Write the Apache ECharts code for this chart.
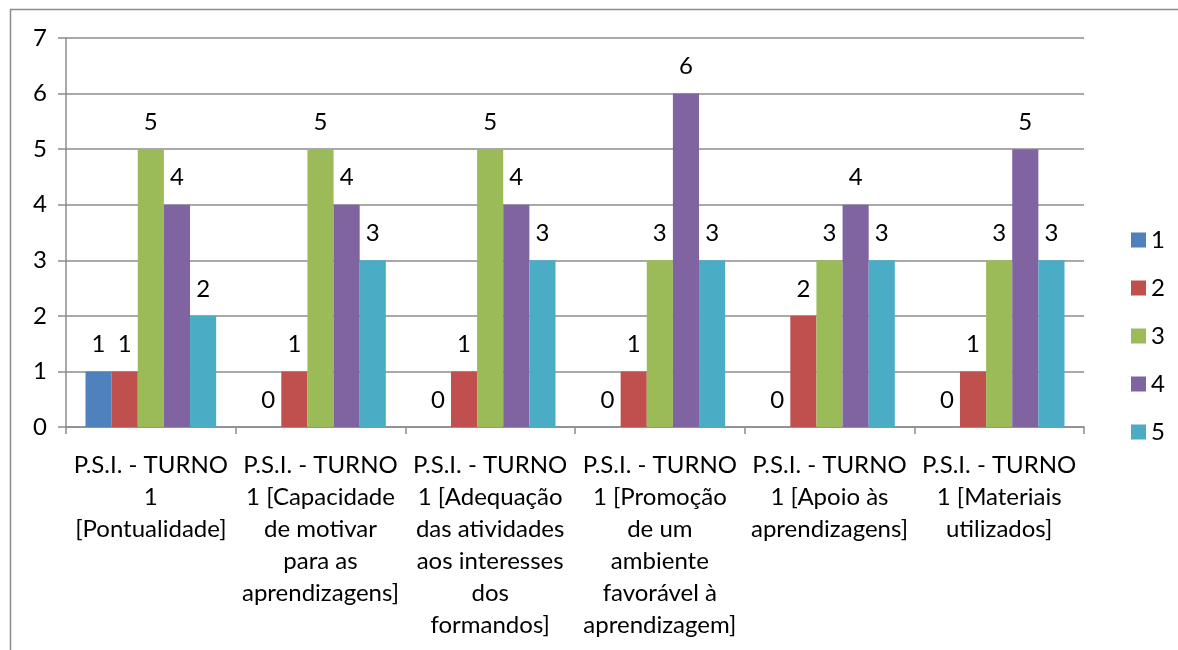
<!DOCTYPE html>
<html>
<head>
<meta charset="utf-8">
<script src="https://cdn.jsdelivr.net/npm/echarts@6/dist/echarts.min.js"></script>
<style>
  html, body { margin: 0; padding: 0; background: #fff; }
  #chart { width: 1178px; height: 650px; }
</style>
</head>
<body>
<div id="chart"></div>
<script>
var categories = [
  'P.S.I. - TURNO\n1\n[Pontualidade]',
  'P.S.I. - TURNO\n1 [Capacidade\nde motivar\npara as\naprendizagens]',
  'P.S.I. - TURNO\n1 [Adequação\ndas atividades\naos interesses\ndos\nformandos]',
  'P.S.I. - TURNO\n1 [Promoção\nde um\nambiente\nfavorável à\naprendizagem]',
  'P.S.I. - TURNO\n1 [Apoio às\naprendizagens]',
  'P.S.I. - TURNO\n1 [Materiais\nutilizados]'
]
var seriesNames = ['1', '2', '3', '4', '5']
var values1 = [1, 0, 0, 0, 0, 0]
var values2 = [1, 1, 1, 1, 2, 1]
var values3 = [5, 5, 5, 3, 3, 3]
var values4 = [4, 4, 4, 6, 4, 5]
var values5 = [2, 3, 3, 3, 3, 3]
var colors = ['#4F81BD', '#C0504D', '#9BBB59', '#8064A2', '#4BACC6']

var allValues = [values1, values2, values3, values4, values5]
var font = 'Lato, "Open Sans", sans-serif'

var chart = echarts.init(document.getElementById('chart'))
var option = {
  animation: false,
  textStyle: { fontFamily: font },
  graphic: [{
    type: 'rect',
    shape: { x: 10.5, y: 9.5, width: 1300, height: 800 },
    style: { fill: 'none', stroke: '#8c8c8c', lineWidth: 1.5 },
    silent: true
  }],
  grid: { left: 66, right: 94, top: 38, bottom: 223 },
  legend: {
    orient: 'vertical',
    left: 1126,
    top: 223,
    itemWidth: 15,
    itemHeight: 15,
    itemGap: 24,
    icon: 'rect',
    textStyle: { fontSize: 24, color: '#000', fontFamily: font },
    data: seriesNames
  },
  xAxis: {
    type: 'category',
    data: categories,
    axisLine: { lineStyle: { color: '#8c8c8c', width: 1.5 } },
    axisTick: { show: true, length: 7, lineStyle: { color: '#8c8c8c', width: 1.5 } },
    axisLabel: {
      interval: 0,
      color: '#000',
      fontSize: 24,
      lineHeight: 32,
      margin: 22,
      fontFamily: font
    }
  },
  yAxis: {
    type: 'value',
    min: 0,
    max: 7,
    interval: 1,
    axisLine: { show: true, lineStyle: { color: '#8c8c8c', width: 1.5 } },
    axisTick: { show: true, length: 8, lineStyle: { color: '#8c8c8c', width: 1.5 } },
    splitLine: { lineStyle: { color: '#8c8c8c', width: 1.5 } },
    axisLabel: { color: '#000', fontSize: 24, margin: 19, fontFamily: font }
  },
  series: allValues.map(function (vals, i) {
    return {
      name: seriesNames[i],
      type: 'bar',
      data: vals,
      barGap: '0%',
      barCategoryGap: '23%',
      itemStyle: { color: colors[i] },
      label: {
        show: true,
        position: 'top',
        distance: 15,
        color: '#000',
        fontSize: 24,
        fontFamily: font
      }
    }
  })
}
chart.setOption(option)
</script>
</body>
</html>
